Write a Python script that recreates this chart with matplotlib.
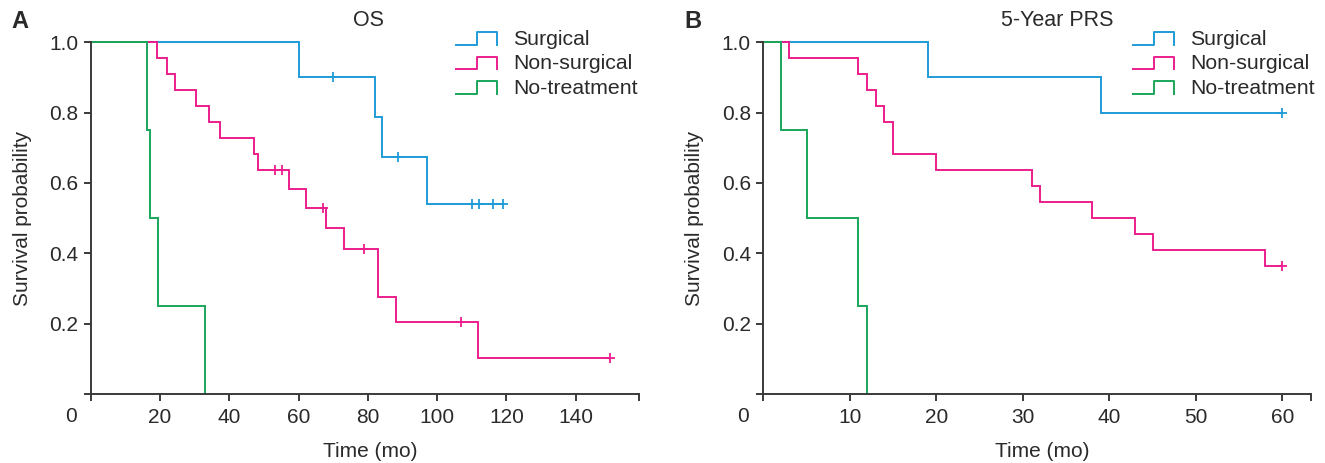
import numpy as np
import matplotlib
matplotlib.use("Agg")
import matplotlib.pyplot as plt
from matplotlib.legend_handler import HandlerBase
from matplotlib.lines import Line2D

plt.rcParams['font.family'] = ['Liberation Sans', 'DejaVu Sans']

# Panel A - OS (step curves: time of each drop and survival after it)
os_surg_t = [0, 60, 82, 84, 97]
os_surg_s = [1.0, 0.9, 0.7875, 0.675, 0.54]
os_surg_cens = [70, 88.6, 110, 112, 116, 119]

os_nons_t = [0, 19.2, 22.1, 24.3, 30.4, 34.2, 37.3, 47.1, 48.2, 57.2, 62.2, 68.0, 73.1, 83.0, 88.0, 111.9]
os_nons_s = [1.0, 0.955, 0.909, 0.864, 0.818, 0.773, 0.727, 0.682, 0.636, 0.583, 0.530, 0.471, 0.412, 0.275, 0.206, 0.103]
os_nons_cens = [53.2, 55.2, 67.1, 79.0, 107.0, 150.0]

os_notr_t = [0, 16.2, 17.2, 19.3, 33.0]
os_notr_s = [1.0, 0.75, 0.5, 0.25, 0.0]
os_notr_cens = []

# Panel B - 5-year PRS
prs_surg_t = [0, 19, 39]
prs_surg_s = [1.0, 0.9, 0.8]
prs_surg_cens = [60]

prs_nons_t = [0, 3, 11, 12, 13, 14, 15, 20, 31, 32, 38, 43, 45, 58]
prs_nons_s = [1.0, 0.955, 0.909, 0.864, 0.818, 0.773, 0.682, 0.636, 0.591, 0.545, 0.5, 0.455, 0.409, 0.364]
prs_nons_cens = [60]

prs_notr_t = [0, 2, 5, 11, 12]
prs_notr_s = [1.0, 0.75, 0.5, 0.25, 0.0]
prs_notr_cens = []

group_names = ["Surgical", "Non-surgical", "No-treatment"]
colors = ["#1f9bd7", "#ec1e8d", "#1aa75a"]
text_col = "#2a2a2a"
spine_col = "#3a3a3a"
fs = 15


class StepHandler(HandlerBase):
    # little step glyph used in the legend
    def create_artists(self, legend, orig_handle, xdescent, ydescent,
                       width, height, fontsize, trans):
        x0 = -xdescent
        y0 = -ydescent
        xs = [x0, x0 + width * 0.5, x0 + width * 0.5, x0 + width, x0 + width]
        ys = [y0 + height * 0.0, y0 + height * 0.0, y0 + height * 0.85,
              y0 + height * 0.85, y0 + height * 0.0]
        ln = Line2D(xs, ys, color=orig_handle.get_color(), lw=1.4)
        ln.set_transform(trans)
        return [ln]


def draw_km(ax, t, s, cens, color):
    t = list(t)
    s = list(s)
    end = max(cens) if cens else t[-1]
    if end > t[-1]:
        t.append(end)
        s.append(s[-1])
    ax.step(t, s, where="post", color=color, lw=1.4, clip_on=False, solid_joinstyle="miter")
    if cens:
        idx = np.searchsorted(t, cens, side="right") - 1
        cy = np.array(s)[idx]
        ax.plot(cens, cy, ls="none", marker="+", ms=7, mew=1.3, color=color, clip_on=False)


fig = plt.figure(figsize=(13.25, 4.63), dpi=100)
W, H = 1325, 463

panels = [
    dict(left=90.7, right=638.7, xmax=158.2, ticks=[0, 20, 40, 60, 80, 100, 120, 140],
         curves=[(os_surg_t, os_surg_s, os_surg_cens), (os_nons_t, os_nons_s, os_nons_cens),
                 (os_notr_t, os_notr_s, os_notr_cens)],
         title="OS", title_x=368, letter="A", letter_x=19.5, leg_x=456),
    dict(left=763.3, right=1311, xmax=63.3, ticks=[0, 10, 20, 30, 40, 50, 60],
         curves=[(prs_surg_t, prs_surg_s, prs_surg_cens), (prs_nons_t, prs_nons_s, prs_nons_cens),
                 (prs_notr_t, prs_notr_s, prs_notr_cens)],
         title="5-Year PRS", title_x=1057, letter="B", letter_x=693, leg_x=1133),
]

top_px, bot_px = 42.3, 394

for p in panels:
    ax = fig.add_axes([p["left"] / W, 1 - bot_px / H, (p["right"] - p["left"]) / W, (bot_px - top_px) / H])
    handles = []
    for (t, s, c), col in zip(p["curves"], colors):
        draw_km(ax, t, s, c, col)
        handles.append(Line2D([], [], color=col))

    ax.set_xlim(0, p["xmax"])
    ax.set_ylim(0, 1.0)
    xt = p["ticks"] + [p["xmax"]]
    ax.set_xticks(xt)
    ax.set_xticklabels([""] + [str(v) for v in p["ticks"][1:]] + [""])
    ax.set_yticks([0, 0.2, 0.4, 0.6, 0.8, 1.0])
    ax.set_yticklabels(["", "0.2", "0.4", "0.6", "0.8", "1.0"])
    ax.annotate("0", xy=(0, 0), xycoords="data", xytext=(-14.5, -16.5), textcoords="offset points",
                ha="center", va="center", fontsize=fs, color=text_col)

    for side in ["top", "right"]:
        ax.spines[side].set_visible(False)
    for side in ["left", "bottom"]:
        ax.spines[side].set_color(spine_col)
        ax.spines[side].set_linewidth(1.4)
    ax.tick_params(axis="both", direction="out", length=5, width=1.4, color=spine_col,
                   labelsize=fs, labelcolor=text_col)
    ax.tick_params(axis="x", pad=5)
    ax.tick_params(axis="y", pad=4)

    ax.set_ylabel("Survival probability", fontsize=fs, color=text_col, va="center")
    ax.yaxis.set_label_coords(-0.125, 0.5)
    ax.set_xlabel("Time (mo)", fontsize=fs, color=text_col, va="center")
    ax.xaxis.set_label_coords(0.51, -0.164)

    fig.text(p["title_x"] / W, 1 - 20 / H, p["title"], ha="center", va="center",
             fontsize=15.5, color=text_col)
    fig.text(p["letter_x"] / W, 1 - 21 / H, p["letter"], ha="center", va="center",
             fontsize=17, fontweight="bold", color=text_col)

    fig.legend(handles, group_names, handler_map={Line2D: StepHandler()},
               loc="upper left", bbox_to_anchor=(p["leg_x"] / W, 1 - 30 / H),
               frameon=False, fontsize=15.3, borderpad=0, borderaxespad=0,
               handlelength=1.95, handletextpad=0.75, labelspacing=0.25,
               labelcolor=text_col)

fig.savefig("out.png", dpi=100)
